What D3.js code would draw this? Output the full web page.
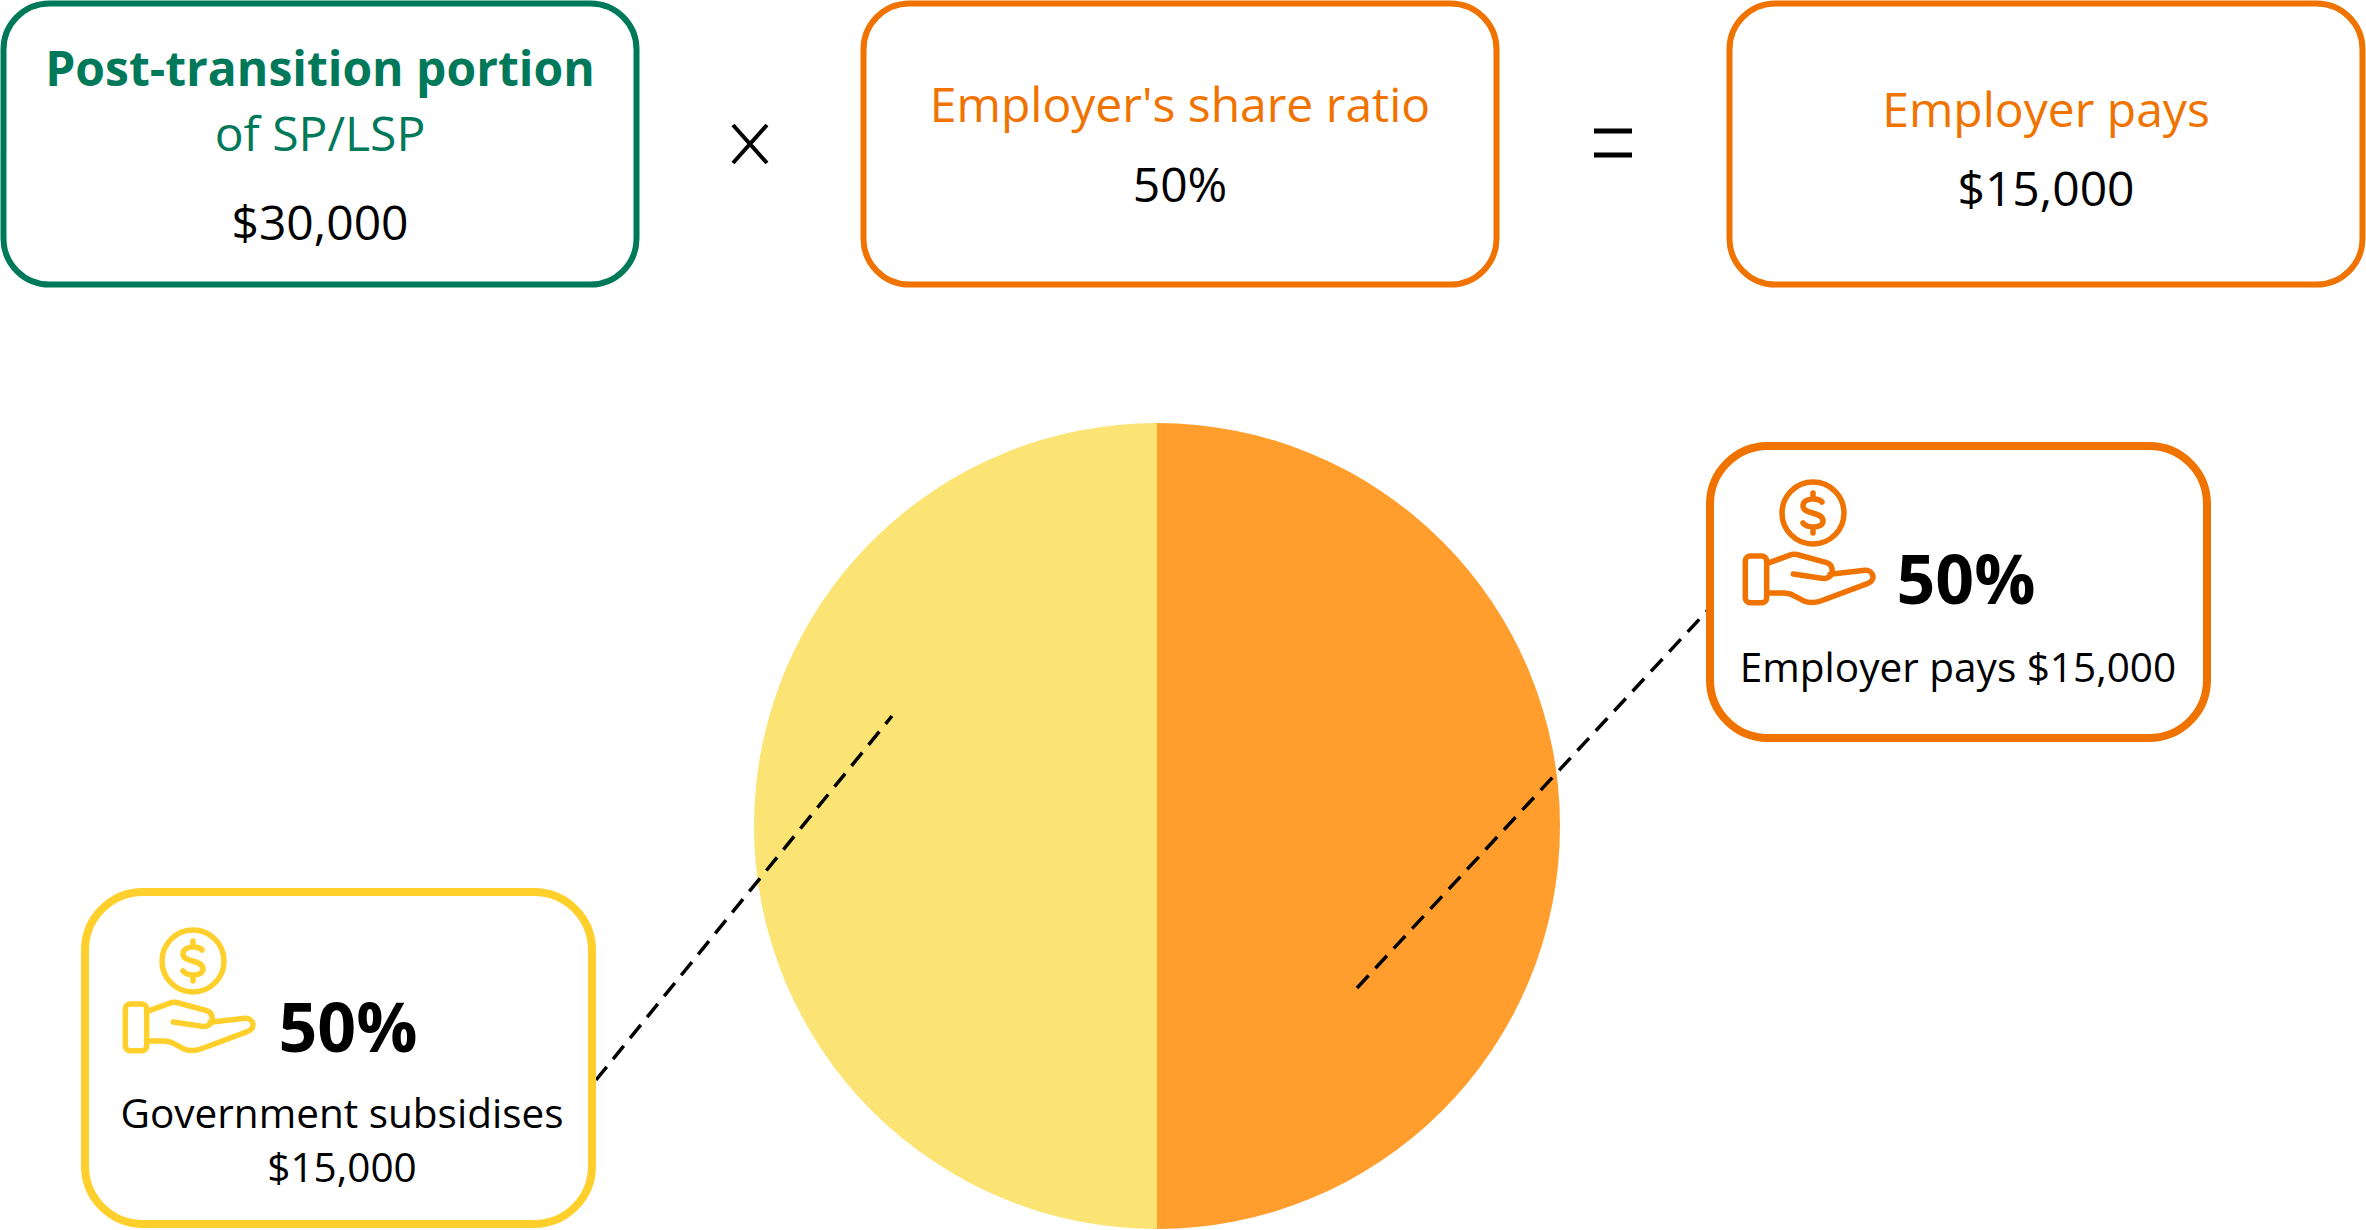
<!DOCTYPE html>
<html><head><meta charset="utf-8">
<script src="https://cdnjs.cloudflare.com/ajax/libs/d3/7.8.5/d3.min.js"></script>
<style>html,body{margin:0;padding:0;background:#fff}svg{display:block}text{font-family:"Open Sans",sans-serif;text-anchor:middle}</style>
</head><body><svg id="c" width="2366" height="1230"></svg>
<script>
const shareLabels = ["Employer pays", "Government subsidises"];
const shareValues = [15000, 15000];
const shareColours = ["#FF9E2D", "#FBE473"];
const green = "#00795A", orange = "#F07300", yellow = "#FFD02B";
const svg = d3.select("#c");

function box(x, y, w, h, r, col, sw) {
  svg.append("rect").attr("x", x).attr("y", y).attr("width", w).attr("height", h).attr("rx", r)
    .attr("fill", "#fff").attr("stroke", col).attr("stroke-width", sw);
}
function txt(x, y, s, size, col, weight) {
  svg.append("text").attr("x", x).attr("y", y).attr("font-size", size).attr("fill", col)
    .attr("font-weight", weight || 400).text(s);
}
function icon(cx, cy, col) {
  const g = svg.append("g").attr("transform", `translate(${cx},${cy})`)
    .attr("fill", "none").attr("stroke", col).attr("stroke-width", 5.5).attr("stroke-linecap", "round").attr("stroke-linejoin", "round");
  g.append("circle").attr("r", 31);
  g.append("path").attr("d", "M9,-11C6,-15 -10,-16 -10,-7C-10,2 10,-2 10,8C10,16 -6,15 -10,10M0,-20V-15M0,15V20");
  const h = g.append("g").attr("transform", "translate(1,2)");
  h.append("rect").attr("x", -68.7).attr("y", 41).attr("width", 21.4).attr("height", 46.7).attr("rx", 5);
  h.append("path").attr("d", "M-44.7,47.7L-24.7,40.3C-21.3,39 -18.7,39 -15.3,40L12.7,47.7C20,50.3 20,61 12.7,63C11,63.7 9.3,63.7 7.7,63.3L-20.7,59M16,59.3L51,55.3C59.3,54.7 62.7,65.3 53.3,68.7L6.7,86C1,88 -4,88.7 -10.7,85.7L-20.7,80.3C-24,78.3 -27.3,78 -30.7,78H-44.7");
}

// formula row
box(3.5, 3.5, 633, 281, 46, green, 6);
box(863.5, 3.5, 633, 281, 46, orange, 6);
box(1729.5, 3.5, 633, 281, 46, orange, 6);
txt(320, 86, "Post-transition portion", 48, green, 700);
txt(320, 151, "of SP/LSP", 48, green);
txt(320, 240, "$30,000", 48, "#000");
txt(1180, 122, "Employer's share ratio", 48, orange);
txt(1180, 202, "50%", 48, "#000");
txt(2046, 127, "Employer pays", 48, orange);
txt(2046, 206, "$15,000", 48, "#000");
svg.append("path").attr("d", "M733,125L767,163M767,125L733,163").attr("stroke", "#000").attr("stroke-width", 4).attr("fill", "none");
svg.append("path").attr("d", "M1594,131H1632M1594,155H1632").attr("stroke", "#000").attr("stroke-width", 5).attr("fill", "none");

// pie
const pie = d3.pie().sort(null).value(d => d);
const arc = d3.arc().innerRadius(0).outerRadius(403);
svg.append("g").attr("transform", "translate(1157,826)")
  .selectAll("path").data(pie(shareValues)).join("path")
  .attr("d", arc).attr("fill", (d, i) => shareColours[i]);

// leaders
svg.append("path").attr("d", "M596,1080L892,716").attr("stroke", "#000").attr("stroke-width", 3.5).attr("stroke-dasharray", "17 10").attr("fill", "none");
svg.append("path").attr("d", "M1357,988L1707,611").attr("stroke", "#000").attr("stroke-width", 3.5).attr("stroke-dasharray", "17 10").attr("fill", "none");

// callouts
box(1710, 446, 497, 292, 58, orange, 8);
icon(1813, 513, orange);
txt(1966, 604, "50%", 68, "#000", 700);
txt(1958, 682, shareLabels[0] + " $15,000", 40.5, "#000");

box(85, 892, 507, 332, 58, yellow, 8);
icon(193, 961, yellow);
txt(348, 1052, "50%", 68, "#000", 700);
txt(342, 1128, shareLabels[1], 40.5, "#000");
txt(342, 1182, "$15,000", 40.5, "#000");
</script></body></html>
